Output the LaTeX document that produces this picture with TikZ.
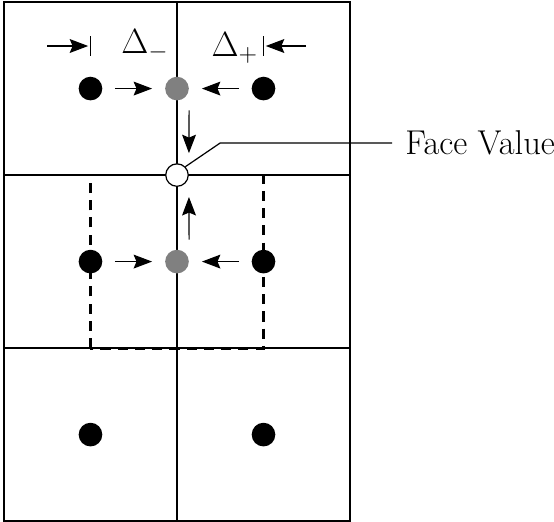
\documentclass[tikz,border=0pt]{standalone}
\usepackage{tikz}
\usetikzlibrary{arrows.meta,positioning,calc}
\definecolor{ink}{HTML}{000000}
\definecolor{midgray}{HTML}{808080}
\tikzset{
  >={Stealth[length=3.2mm,width=2.4mm,inset=0.5mm]},
  every node/.style={font=\fontsize{17}{20}\selectfont,text=ink},
  gridline/.style={draw=ink,line width=0.8pt},
  cellval/.style={circle,fill=ink,minimum size=4.1mm,inner sep=0pt},
  interp/.style={cellval,fill=midgray},
  facept/.style={circle,draw=ink,fill=white,line width=0.6pt,minimum size=3.9mm,inner sep=0pt},
  stencil/.style={draw=ink,line width=1.4pt,dash pattern=on 5pt off 3.5pt},
  flow/.style={->,line width=0.6pt,draw=ink,shorten <=2.1mm,shorten >=2.2mm},
  upflow/.style={->,line width=0.6pt,draw=ink,shorten <=3.8mm,shorten >=3.8mm},
  leader/.style={line width=0.6pt,draw=ink},
}

\begin{document}
\begin{tikzpicture}[x=3cm,y=3cm]
\useasboundingbox (-0.023,-0.005) rectangle (3.179,3.012);

% grid of cells
\draw[gridline] (0,0) rectangle (2,3);
\draw[gridline] (1,0) -- (1,3);
\draw[gridline] (0,1) -- (2,1);
\draw[gridline] (0,2) -- (2,2);

% dashed stencil
\draw[stencil] (0.5,1) rectangle (1.5,2);

% cell values
\node[cellval] (tl) at (0.5,2.5) {};
\node[cellval] (tr) at (1.5,2.5) {};
\node[interp]  (tg) at (1,2.5) {};
\node[cellval] (ml) at (0.5,1.5) {};
\node[cellval] (mr) at (1.5,1.5) {};
\node[interp]  (mg) at (1,1.5) {};
\node[cellval] (bl) at (0.5,0.5) {};
\node[cellval] (br) at (1.5,0.5) {};
\node[facept]  (fv) at (1,2) {};

% interpolation arrows
\draw[flow] (tl) -- (tg);
\draw[flow] (tr) -- (tg);
\draw[flow] (ml) -- (mg);
\draw[flow] (mr) -- (mg);
\draw[upflow] (tg.east) -- (fv.east);
\draw[upflow] (mg.east) -- (fv.east);

% spacing markers
\coordinate (dmbar) at (0.5,2.746);
\coordinate (dpbar) at (1.5,2.746);
\draw[leader] ($(dmbar)+(0,0.057)$) -- ($(dmbar)+(0,-0.058)$);
\draw[leader] ($(dpbar)+(0,0.057)$) -- ($(dpbar)+(0,-0.058)$);
\coordinate (dmtail) at (0.249,2.746);
\coordinate (dptail) at (1.746,2.746);
\draw[->,line width=0.6pt,shorten >=0.4mm] (dmtail) -- (dmbar);
\draw[->,line width=0.6pt,shorten >=0.4mm] (dptail) -- (dpbar);
\node (dminus) at (0.815,2.75) {$\Delta_-$};
\node (dplus) at (1.335,2.735) {$\Delta_+$};

% face value label
\node[anchor=west,inner sep=0pt] (fvlabel) at (2.318,2.185) {Face Value};
\coordinate (bend) at (1.249,2.185);
\draw[leader] (fv.45) -- (bend) -- ($(fvlabel.west)+(-0.075,0)$);

\end{tikzpicture}
\end{document}
